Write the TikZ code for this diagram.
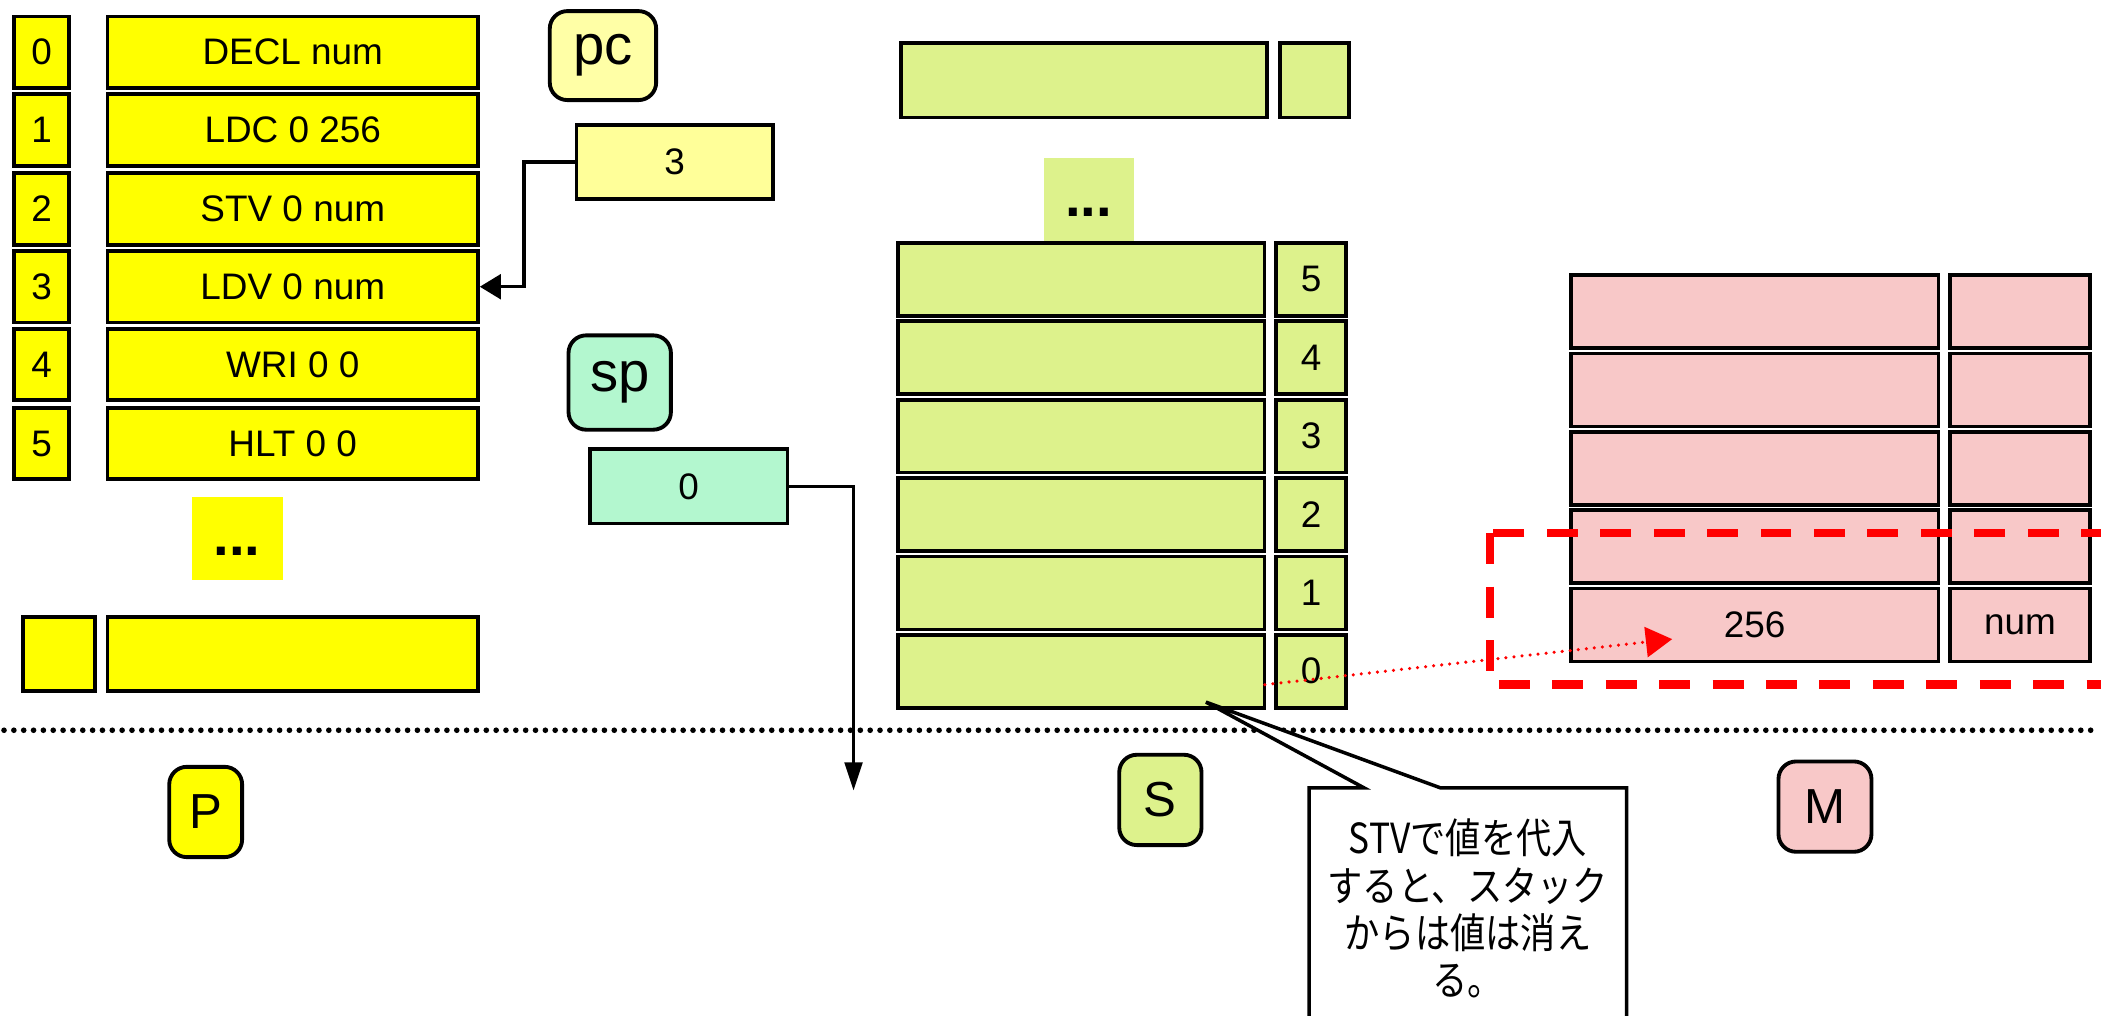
\documentclass[tikz,border=0pt]{standalone}
\usepackage{fontspec}
\setmainfont{Liberation Sans}
\newfontfamily\jpfont[FakeStretch=0.85]{Noto Sans CJK JP}
\usetikzlibrary{arrows.meta}
\definecolor{pyel}{HTML}{FFFF00}
\definecolor{pclab}{HTML}{FFFFA6}
\definecolor{pcvalc}{HTML}{FFFF99}
\definecolor{spcol}{HTML}{B3F7CF}
\definecolor{stk}{HTML}{DDF28C}
\definecolor{mem}{HTML}{F8C8C8}
\definecolor{redc}{HTML}{FF0000}
\tikzset{
  cell/.style={draw=black, line width=1.05pt, inner sep=0pt, font=\fontsize{10.5}{12}\selectfont},
  pcell/.style={cell, fill=pyel},
  scell/.style={cell, fill=stk},
  mcell/.style={cell, fill=mem, font=\fontsize{10.5}{12}\selectfont},
  lab/.style={draw=black, line width=1.1pt, rounded corners=5pt, inner sep=0pt, font=\fontsize{14}{16}\selectfont},
  reglab/.style={lab, font=\fontsize{16}{18}\selectfont},
  dotsbox/.style={inner sep=0pt, font=\bfseries\fontsize{16}{18}\selectfont},
  blk/.style={draw=black, line width=1pt},
  sepline/.style={line width=1.6pt, line cap=round, dash pattern=on 0pt off 2.8pt},
  reddash/.style={draw=redc, line width=2.4pt, dash pattern=on 8.8pt off 6.4pt},
  reddot/.style={draw=redc, line width=1pt, line cap=round, dash pattern=on 0pt off 2.3pt},
  callout/.style={draw=black, line width=1pt, fill=white},
  calltext/.style={align=center, inner sep=0pt, font=\jpfont\fontsize{11.8}{13.4}\selectfont},
}
% box given by outer extents (x1,y1)-(x2,y2) in reference pixels; path inset by half the line
\newcommand\bx[7]{\node[#1, minimum width={(#5-#3-2.6)*0.0134cm}, minimum height={(#6-#4-2.6)*0.0134cm}] (#2) at ({(#3+#5)/2},{(#4+#6)/2}) {#7};}
\newcommand\lowdots{\raisebox{-4.8pt}[0pt][0pt]{...}}
\begin{document}
\begin{tikzpicture}[x=0.0134cm, y=-0.0134cm]
\useasboundingbox (0,0) rectangle (1568,758);
% ---------- Program area P ----------
\bx{pcell}{n0}{9}{11}{53}{67}{0}
\bx{pcell}{n1}{9}{69}{53}{125}{1}
\bx{pcell}{n2}{9}{128}{53}{184}{2}
\bx{pcell}{n3}{9}{186}{53}{242}{3}
\bx{pcell}{n4}{9}{244}{53}{300}{4}
\bx{pcell}{n5}{9}{303}{53}{359}{5}
\bx{pcell}{i0}{79}{11}{358}{67}{DECL num}
\bx{pcell}{i1}{79}{69}{358}{125}{LDC 0 256}
\bx{pcell}{i2}{79}{128}{358}{184}{STV 0 num}
\bx{pcell}{i3}{79}{186}{358}{242}{LDV 0 num}
\bx{pcell}{i4}{79}{244}{358}{300}{WRI 0 0}
\bx{pcell}{i5}{79}{303}{358}{359}{HLT 0 0}
\node[dotsbox, fill=pyel, minimum width={68*0.0134cm}, minimum height={62*0.0134cm}] (pdots) at (177,402) {\lowdots};
\bx{pcell}{nlast}{16}{459}{72}{517}{}
\bx{pcell}{ilast}{79}{459}{358}{517}{}
\bx{lab, fill=pyel}{plab}{125}{571}{182}{641}{P}
% ---------- registers ----------
\bx{reglab, fill=pclab}{pclabel}{409}{7}{491}{76}{pc}
\bx{cell, fill=pcvalc}{pcval}{429}{92}{578}{150}{3}
\bx{reglab, fill=spcol}{splabel}{423}{249}{502}{322}{sp}
\bx{cell, fill=spcol}{spval}{439}{334}{589}{392}{0}
\draw[blk, -{Triangle[length=6pt,width=7pt]}] (pcval.west) -- ++(-38,0) |- (i3.east);
\coordinate (spend) at (637,590);
\draw[blk, -{Triangle[length=8pt,width=5pt]}] (spval.east) -| (spend);
% ---------- separator ----------
\coordinate (sepl) at (3,545);
\coordinate (sepr) at (1566,545);
\draw[sepline] (sepl) -- (sepr);
% ---------- Stack S ----------
\bx{scell}{stop}{671}{31}{947}{89}{}
\bx{scell}{stopn}{954}{31}{1008}{89}{}
\node[dotsbox, fill=stk, minimum width={67*0.0134cm}, minimum height={62*0.0134cm}] (sdots) at (812.5,149) {\lowdots};
\bx{scell}{s5}{669}{180}{945}{237}{}
\bx{scell}{s4}{669}{238.5}{945}{295.5}{}
\bx{scell}{s3}{669}{297}{945}{354}{}
\bx{scell}{s2}{669}{355.5}{945}{412.5}{}
\bx{scell}{s1}{669}{414}{945}{471}{}
\bx{scell}{s0}{669}{472.5}{945}{529.5}{}
\bx{scell}{sn5}{951}{180}{1006}{237}{5}
\bx{scell}{sn4}{951}{238.5}{1006}{295.5}{4}
\bx{scell}{sn3}{951}{297}{1006}{354}{3}
\bx{scell}{sn2}{951}{355.5}{1006}{412.5}{2}
\bx{scell}{sn1}{951}{414}{1006}{471}{1}
\bx{scell}{sn0}{951}{472.5}{1006}{529.5}{0}
\bx{lab, fill=stk}{slab}{834}{562}{898}{632}{S}
% ---------- Memory M ----------
\bx{mcell}{m4}{1171}{204}{1448}{261}{}
\bx{mcell}{m3}{1171}{262.5}{1448}{319.5}{}
\bx{mcell}{m2}{1171}{321}{1448}{378}{}
\bx{mcell}{m1}{1171}{379.5}{1448}{436.5}{}
\bx{mcell}{m0}{1171}{438}{1448}{495}{256}
\bx{mcell}{mn4}{1454}{204}{1561}{261}{}
\bx{mcell}{mn3}{1454}{262.5}{1561}{319.5}{}
\bx{mcell}{mn2}{1454}{321}{1561}{378}{}
\bx{mcell}{mn1}{1454}{379.5}{1561}{436.5}{}
\bx{mcell}{mn0}{1454}{438}{1561}{495}{num}
\bx{lab, fill=mem}{mlab}{1326}{567}{1398}{637}{M}
\draw[reddash] (1112,398) rectangle (1590,511);
\coordinate (rs) at (944,511);
\coordinate (re) at (1248,477);
\draw[reddot, -{Triangle[length=7.5pt,width=8.5pt]}] (rs) -- (re);
% ---------- callout ----------
\coordinate (tip) at (900,524);
\draw[callout] (977,775) -- (977,588) -- (1018,588) -- (tip) -- (1075,588) -- (1214,588) -- (1214,775);
\node[calltext] (ctext) at (1095.5,678) {STVで値を代入\\すると、スタック\\からは値は消え\\る。};
\end{tikzpicture}
\end{document}
